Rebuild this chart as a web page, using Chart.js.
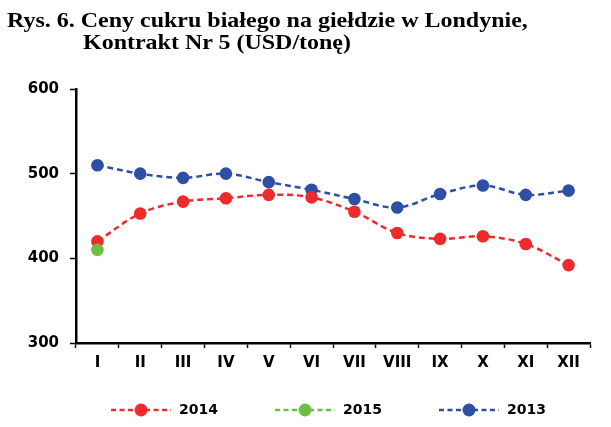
<!DOCTYPE html>
<html>
<head>
<meta charset="utf-8">
<script src="https://cdn.jsdelivr.net/npm/chart.js@4"></script>
<style>
  html, body { margin: 0; padding: 0; background: #fff; }
  #wrap { position: relative; width: 611px; height: 427px; }
  #c { position: absolute; left: 0; top: 0; }
  .t { position: absolute; font-family: "Liberation Serif", "Times New Roman", serif; font-weight: bold; font-size: 22px; color: #000; white-space: nowrap; transform: scaleX(1.09); transform-origin: 0 0; }
</style>
</head>
<body>
<div id="wrap">
  <canvas id="c" width="611" height="427"></canvas>
  <div class="t" style="left:7px; top:7px;">Rys. 6. Ceny cukru białego na giełdzie w Londynie,</div>
  <div class="t" style="left:83px; top:29px;">Kontrakt Nr 5 (USD/tonę)</div>
</div>
<script>
const categories = ['I','II','III','IV','V','VI','VII','VIII','IX','X','XI','XII'];
const seriesNames = ['2014', '2015', '2013'];
const values2014 = [420, 453, 467, 471, 475, 472, 455, 430, 423, 426, 417, 392];
const values2015 = [410, null, null, null, null, null, null, null, null, null, null, null];
const values2013 = [510, 500, 495, 500, 490, 481, 470, 460, 476, 486, 475, 480];
const yTicks = [300, 400, 500, 600];

const colors = ['#EE2A2A', '#6DBE45', '#2E4FA3'];
const dash = [6, 4];
const ICON_MARGIN = 48;

function legendIcon(color) {
  const c = document.createElement('canvas');
  c.width = ICON_MARGIN + 62; c.height = 16;
  const g = c.getContext('2d');
  g.strokeStyle = color; g.lineWidth = 2.5;
  g.setLineDash([5, 3.5]);
  g.beginPath(); g.moveTo(ICON_MARGIN + 1, 8); g.lineTo(ICON_MARGIN + 61, 8); g.stroke();
  g.fillStyle = color;
  g.beginPath(); g.arc(ICON_MARGIN + 31, 8, 6.5, 0, Math.PI * 2); g.fill();
  return c;
}
const icons = colors.map(legendIcon);

function ds(label, data, color, order) {
  return {
    label, data, order,
    borderColor: color, backgroundColor: color,
    borderWidth: 2.5, borderDash: dash,
    pointRadius: 6.3, pointHoverRadius: 6.3,
    pointBackgroundColor: color, pointBorderColor: color, pointBorderWidth: 0,
    tension: 0.35, spanGaps: false, fill: false
  };
}

const axisFont = { family: 'DejaVu Sans, Arial, sans-serif', size: 15, weight: 'bold' };

new Chart(document.getElementById('c'), {
  type: 'line',
  data: {
    labels: categories,
    datasets: [
      ds(seriesNames[0], values2014, colors[0], 1),
      ds(seriesNames[1], values2015, colors[1], 0),
      ds(seriesNames[2], values2013, colors[2], 2)
    ]
  },
  options: {
    responsive: false,
    animation: false,
    events: [],
    layout: { padding: { top: 89, left: 18, right: 21, bottom: 0 } },
    plugins: {
      tooltip: { enabled: false },
      title: { display: false },
      legend: {
        position: 'bottom',
        labels: {
          usePointStyle: true,
          pointStyleWidth: ICON_MARGIN + 62,
          boxHeight: 16,
          padding: 8,
          color: '#000',
          font: { family: 'DejaVu Sans, Arial, sans-serif', size: 14, weight: 'bold' },
          generateLabels(chart) {
            return chart.data.datasets.map((d, i) => ({
              text: d.label, datasetIndex: i, pointStyle: icons[i],
              fillStyle: colors[i], strokeStyle: colors[i], lineWidth: 0, hidden: false, fontColor: '#000'
            }));
          }
        }
      }
    },
    scales: {
      x: {
        offset: true,
        afterFit(s) { s.height = 52; },
        grid: { drawOnChartArea: false, offset: true, tickLength: 5, tickWidth: 1.5, tickColor: '#000' },
        border: { color: '#000', width: 2.5 },
        ticks: { color: '#000', padding: 6, maxRotation: 0, autoSkip: false, font: axisFont }
      },
      y: {
        min: 300, max: 600,
        afterFit(s) { s.width = 58; },
        afterBuildTicks(s) { s.ticks = yTicks.map(v => ({ value: v })); },
        grid: { drawOnChartArea: false, tickLength: 6, tickWidth: 1.5, tickColor: '#000' },
        border: { color: '#000', width: 2.5 },
        ticks: { color: '#000', padding: 11, font: axisFont }
      }
    }
  }
});
</script>
</body>
</html>
